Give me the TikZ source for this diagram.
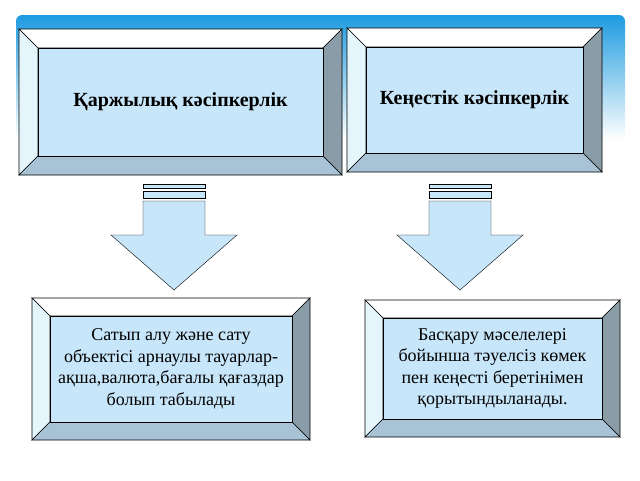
\documentclass[tikz,border=0pt]{standalone}
\usepackage{fontspec}
\setmainfont{Liberation Serif}
\definecolor{bandblue}{HTML}{1E9BE0}
\definecolor{faceblue}{HTML}{C8E6FA}
\definecolor{bevleft}{HTML}{E4F6FC}
\definecolor{bevright}{HTML}{8A9CA8}
\definecolor{bevbottom}{HTML}{A9C3D6}
\tikzset{
  edge/.style={draw=black, line width=0.6pt},
  boxtext/.style={align=center, font=\fontsize{18}{21.5}\selectfont},
  titletext/.style={font=\bfseries\fontsize{20}{24}\selectfont},
}
% bevelled box: name, x1, y1, x2, y2, bevel
\newcommand{\bevelbox}[6]{%
  \fill[white] (#2,#3) rectangle (#4,#5);
  \filldraw[edge, fill=white] (#2,#3) -- (#4,#3) -- (#4-#6,#3+#6) -- (#2+#6,#3+#6) -- cycle;
  \filldraw[edge, fill=bevleft] (#2,#3) -- (#2+#6,#3+#6) -- (#2+#6,#5-#6) -- (#2,#5) -- cycle;
  \filldraw[edge, fill=bevright] (#4,#3) -- (#4,#5) -- (#4-#6,#5-#6) -- (#4-#6,#3+#6) -- cycle;
  \filldraw[edge, fill=bevbottom] (#2,#5) -- (#4,#5) -- (#4-#6,#5-#6) -- (#2+#6,#5-#6) -- cycle;
  \filldraw[edge, fill=faceblue] (#2+#6,#3+#6) rectangle (#4-#6,#5-#6);
  \coordinate (#1) at ({(#2+#4)/2},{(#3+#5)/2});
}
% down arrow with two bars: centre x, top y
\newcommand{\barredarrow}[2]{%
  \filldraw[edge, line width=0.4pt, fill=faceblue] (#1-31,#2) rectangle (#1+31,#2+4);
  \filldraw[edge, line width=0.4pt, fill=faceblue] (#1-31,#2+7) rectangle (#1+31,#2+14);
  \filldraw[edge, line width=0.4pt, fill=faceblue] (#1-31,#2+17) -- (#1+31,#2+17) -- (#1+31,#2+51)
    -- (#1+63,#2+51) -- (#1,#2+106) -- (#1-63,#2+51) -- (#1-31,#2+51) -- cycle;
}
\begin{document}
\begin{tikzpicture}[x=1pt,y=-1pt]
\useasboundingbox (0,0) rectangle (640,480);

% The band
\shade[top color=bandblue, bottom color=white, rounded corners=6pt]
  (16,15) rectangle (625,140);

% The top boxes
\bevelbox{fin}{19}{29}{342}{175}{19}
\node[titletext] (finT) at (fin) {Қаржылық кәсіпкерлік};
\bevelbox{con}{347}{28}{602}{172}{19}
\node[titletext] (conT) at (con) {Кеңестік кәсіпкерлік};

% The arrows
\barredarrow{174}{184}
\barredarrow{460}{184}

% The bottom boxes
\bevelbox{buy}{32}{298}{310}{440}{18}
\node[boxtext] (buyT) at (buy) {Сатып алу және сату\\объектісі арнаулы тауарлар-\\ақша,валюта,бағалы қағаздар\\болып табылады\hspace{3.2em}};
\bevelbox{adv}{365}{300}{620}{437}{18}
\node[boxtext] (advT) at (adv) {Басқару мәселелері\\бойынша тәуелсіз көмек\\пен кеңесті беретінімен\\қорытындыланады.};
\end{tikzpicture}
\end{document}
